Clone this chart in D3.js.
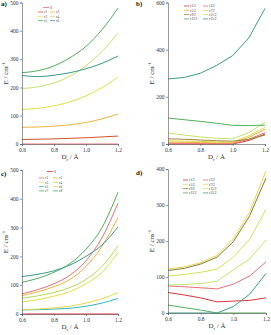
<!DOCTYPE html>
<html><head><meta charset="utf-8">
<script src="https://d3js.org/d3.v7.min.js"></script>
<style>
html,body{margin:0;padding:0;background:#fff;}
svg{display:block;font-family:"Liberation Serif","DejaVu Serif",serif;}
</style></head>
<body><svg id="c" width="271" height="335"></svg>
<script>
// x values (D_r / Å)
const dr = [0.6, 0.7, 0.8, 0.9, 1.0, 1.1, 1.2];
const xTicks = [0.6, 0.8, 1.0, 1.2];

// Panel a
const aLabels = ["0", "ε1", "ε2", "ε3", "ε4", "ε5", "ε6"];
const aColors = ["#e8707a", "#d4532e", "#eeb43c", "#dfe04a", "#c4e36a", "#4eb35a", "#3a9c88"];
const a0 = [0, 0, 0, 0, 0, 0, 0];
const a1 = [16, 17, 18, 20, 22, 25, 28];
const a2 = [59, 60, 63, 68, 76, 89, 106];
const a3 = [122, 126, 135, 149, 170, 199, 237];
const a4 = [196, 202, 216, 240, 277, 327, 392];
const a5 = [252, 259, 276, 305, 345, 404, 480];
const a6 = [242, 238, 243, 252, 266, 285, 311];
const aTicks = [0, 100, 200, 300, 400, 500];

// Panel b
const bLabels = ["ε1/2", "ε3/2", "ε5/2", "ε7/2", "ε9/2", "ε11/2", "ε13/2", "ε15/2"];
const bColors = ["#d9353a", "#e8707a", "#eeb43c", "#e6d84a", "#9a8a3a", "#c4e36a", "#4eb35a", "#3a9c88"];
const b1 = [0, 0, 0, 0, 0, 15, 42];
const b2 = [4, 3, 3, 2, 2, 20, 48];
const b3 = [8, 7, 6, 5, 5, 28, 62];
const b4 = [13, 12, 11, 9, 8, 35, 70];
const b5 = [22, 20, 17, 14, 12, 20, 38];
const b6 = [46, 38, 30, 24, 22, 48, 92];
const b7 = [110, 103, 96, 88, 79, 78, 80];
const b8 = [276, 282, 300, 333, 375, 450, 575];
const bTicks = [0, 200, 400, 600];

// Panel c
const cLabels = ["0", "ε1", "ε2", "ε3", "ε4", "ε5", "ε6", "ε7", "ε8"];
const cColors = ["#d9353a", "#e8707a", "#eeb43c", "#dfe04a", "#b4dc5a", "#36b6c0", "#e6d84a", "#4eb35a", "#3a9c88"];
const c0 = [0, 0, 0, 0, 0, 0, 0];
const c1 = [70, 85, 105, 135, 185, 265, 385];
const c2 = [64, 77, 95, 120, 165, 235, 335];
const c3 = [42, 50, 62, 78, 105, 145, 213];
const c4 = [55, 63, 75, 92, 120, 165, 237];
const c5 = [14, 15, 17, 20, 27, 38, 54];
const c6 = [15, 17, 21, 27, 38, 53, 74];
const c7 = [110, 124, 145, 175, 225, 300, 423];
const c8 = [130, 138, 150, 170, 200, 240, 302];
const cTicks = [0, 100, 200, 300, 400, 500];

// Panel d
const dLabels = ["ε1/2", "ε3/2", "ε5/2", "ε7/2", "ε9/2", "ε11/2", "ε13/2", "ε15/2"];
const dColors = ["#d9353a", "#e8707a", "#d6e05a", "#e6d84a", "#8a7c34", "#c4e36a", "#4eb35a", "#3a9c88"];
const dS1 = [57, 50, 42, 31, 33, 35, 42];
const dS2 = [75, 73, 70, 67, 80, 103, 142];
const dS3 = [103, 107, 113, 122, 155, 205, 288];
const dS4 = [122, 128, 140, 160, 205, 280, 395];
const dS5 = [118, 124, 136, 155, 198, 270, 375];
const dS6 = [78, 79, 82, 88, 120, 150, 203];
const dS7 = [22, 15, 8, 0, 0, 0, 0];
const dS8 = [0, 0, 0, 0, 18, 52, 110];
const dTicks = [0, 100, 200, 300, 400];

const svg = d3.select("#c");

function panel(o) {
  const g = svg.append("g");
  const x = d3.scaleLinear().domain([0.6, 1.2]).range([o.x0, o.x1]);
  const y = d3.scaleLinear().domain([0, o.ymax]).range([o.y0, o.y1]);
  const line = d3.line().x((d, i) => x(dr[i])).y(d => y(d))
    .curve(o.smooth ? d3.curveMonotoneX : d3.curveLinear);
  o.series.forEach((s, i) => {
    g.append("path").datum(s).attr("d", line)
      .attr("fill", "none").attr("stroke", o.colors[i]).attr("stroke-width", 1);
  });
  const ya = g.append("g").attr("transform", `translate(${o.x0},0)`)
    .call(d3.axisLeft(y).tickValues(o.yticks).tickSize(2).tickPadding(1.5).tickFormat(d3.format("d")));
  const xa = g.append("g").attr("transform", `translate(0,${o.y0})`)
    .call(d3.axisBottom(x).tickValues(xTicks).tickSize(2).tickPadding(2).tickFormat(d3.format(".1f")));
  [ya, xa].forEach(a => {
    a.selectAll("path,line").attr("stroke", "#555").attr("stroke-width", 0.6);
    a.selectAll("text").attr("font-size", 5.5).attr("fill", "#333")
      .attr("font-family", "Liberation Serif");
  });
  g.append("text").attr("x", o.x0 - 14).attr("y", (o.y0 + o.y1) / 2)
    .attr("transform", `rotate(-90,${o.x0 - 14},${(o.y0 + o.y1) / 2})`)
    .attr("text-anchor", "middle").attr("font-size", 7).attr("fill", "#333")
    .html('E / cm<tspan dy="-3" font-size="5">-1</tspan>');
  g.append("text").attr("x", (o.x0 + o.x1) / 2).attr("y", o.y0 + 15)
    .attr("text-anchor", "middle").attr("font-size", 7).attr("fill", "#333")
    .html('D<tspan dy="1.5" font-size="5">r</tspan><tspan dy="-1.5"> / Å</tspan>');
  g.append("text").attr("x", o.lx).attr("y", o.ly)
    .attr("font-size", 7).attr("font-weight", "bold").attr("fill", "#111").text(o.tag);
  const lg = g.append("g");
  let start = 0;
  if (o.single) {
    lg.append("line").attr("x1", o.zeroX).attr("x2", o.zeroX + 6)
      .attr("y1", o.zeroY).attr("y2", o.zeroY).attr("stroke", o.colors[0]).attr("stroke-width", 0.8);
    lg.append("text").attr("x", o.zeroX + 7).attr("y", o.zeroY + 1.3)
      .attr("font-size", 3.6).attr("fill", "#333").text(o.labels[0]);
    start = 1;
  }
  for (let i = start; i < o.labels.length; i++) {
    const k = i - start;
    const col = k % 2, r = Math.floor(k / 2);
    const lx = o.legX + col * o.colW, ly = o.legY + r * o.rowH;
    lg.append("line").attr("x1", lx).attr("x2", lx + 5).attr("y1", ly).attr("y2", ly)
      .attr("stroke", o.colors[i]).attr("stroke-width", 0.8);
    lg.append("text").attr("x", lx + 6).attr("y", ly + 1.2)
      .attr("font-size", 3.4).attr("fill", "#333").text(o.labels[i]);
  }
}

panel({x0: 22, x1: 118, y0: 144, y1: 2.5, ymax: 500, yticks: aTicks, smooth: true,
  series: [a0, a1, a2, a3, a4, a5, a6], colors: aColors, labels: aLabels,
  tag: "a)", lx: 1, ly: 6, zeroX: 43, zeroY: 7.5, legX: 38, legY: 12, rowH: 4.3, colW: 12, single: true});
panel({x0: 168, x1: 265, y0: 144, y1: 2.5, ymax: 600, yticks: bTicks, smooth: false,
  series: [b1, b2, b3, b4, b5, b6, b7, b8], colors: bColors, labels: bLabels,
  tag: "b)", lx: 136, ly: 6, legX: 184, legY: 6, rowH: 4.3, colW: 19, single: false});
panel({x0: 22, x1: 118, y0: 314, y1: 170, ymax: 500, yticks: cTicks, smooth: true,
  series: [c0, c1, c2, c3, c4, c5, c6, c7, c8], colors: cColors, labels: cLabels,
  tag: "c)", lx: 1, ly: 176, zeroX: 47, zeroY: 171.5, legX: 39, legY: 178, rowH: 4.3, colW: 14, single: true});
panel({x0: 168, x1: 266, y0: 313, y1: 169, ymax: 400, yticks: dTicks, smooth: false,
  series: [dS1, dS2, dS3, dS4, dS5, dS6, dS7, dS8], colors: dColors, labels: dLabels,
  tag: "d)", lx: 136, ly: 175, legX: 183, legY: 180, rowH: 4.3, colW: 20, single: false});
</script></body></html>
